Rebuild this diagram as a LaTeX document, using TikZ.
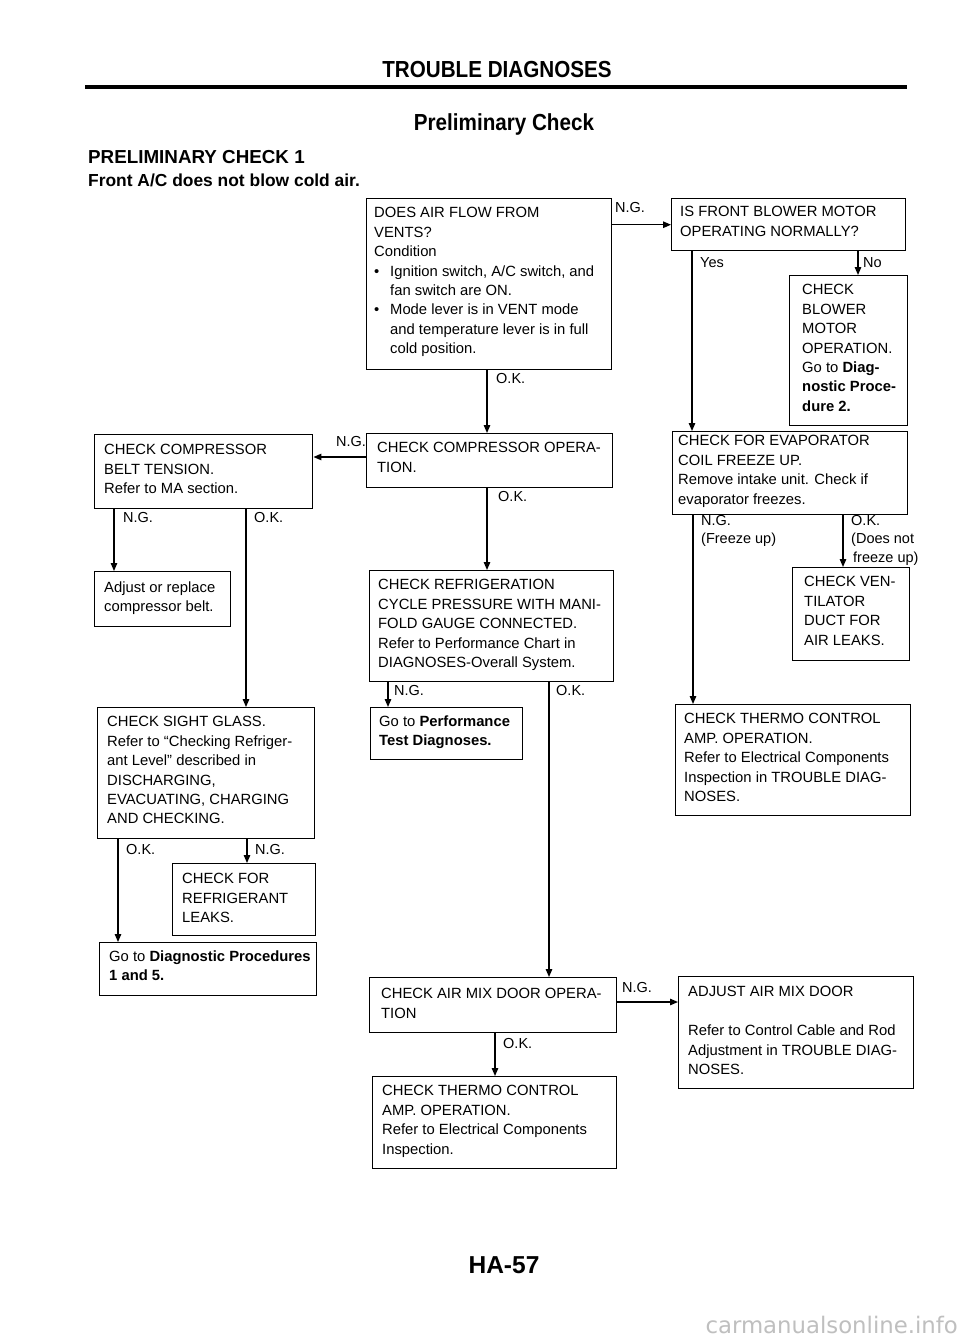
\documentclass[tikz,border=0pt]{standalone}
\usepackage{fontspec}
\setmainfont{Liberation Sans}
\newfontfamily\wmfont{DejaVu Sans}
\usetikzlibrary{arrows.meta}
\tikzset{
  box/.style={draw, line width=1.45pt, inner sep=0pt, anchor=north west},
  txt/.style={inner sep=0pt, anchor=north west, align=left, font=\fontsize{14.8}{19.4}\selectfont},
  lbl/.style={inner sep=0pt, anchor=base west, font=\fontsize{14.5}{19}\selectfont},
  arr/.style={line width=1.3pt, -{Triangle[length=8pt,width=6.5pt]}},
  ttl/.style={inner sep=0pt, font=\bfseries\fontsize{21.5}{24}\selectfont},
}
% name, x1, y1, x2, y2, text x, first baseline, text
\newcommand\flowbox[8]{%
  \node[box, minimum width=#4pt-#2pt, minimum height=#5pt-#3pt] (#1) at (#2,#3) {};
  \node[txt] (#1-t) at (#6,{#7-10.6}) {#8};
}
\newcommand\bul{\makebox[16pt][l]{\textbullet}}
\begin{document}
\begin{tikzpicture}[x=1pt,y=-1pt]
\useasboundingbox (0,0) rectangle (960,1340);
\fill[white] (0,0) rectangle (960,1340);

% header
\node[ttl, anchor=base] (title) at (497,78) {\scalebox{0.96}[1.08]{TROUBLE DIAGNOSES}};
\draw[line width=3.5pt] (85,87) -- (907,87);
\node[ttl, anchor=base] (sub) at (504,131) {\scalebox{0.96}[1.08]{Preliminary Check}};
\node[anchor=base west, inner sep=0pt, font=\bfseries\fontsize{18.8}{22}\selectfont] (h1) at (88,164) {PRELIMINARY CHECK 1};
\node[anchor=base west, inner sep=0pt, font=\bfseries\fontsize{17.4}{20}\selectfont] (h2) at (88,187) {Front A/C does not blow cold air.};

% boxes
\flowbox{A}{366}{198}{611}{369}{374}{218}{DOES AIR FLOW FROM\\VENTS?\\Condition\\\bul Ignition switch, A/C switch, and\\\hspace*{16pt}fan switch are ON.\\\bul Mode lever is in VENT mode\\\hspace*{16pt}and temperature lever is in full\\\hspace*{16pt}cold position.}
\flowbox{B}{671}{198}{905}{250}{680}{217}{IS FRONT BLOWER MOTOR\\OPERATING NORMALLY?}
\flowbox{C}{789}{275}{907}{425}{802}{295}{CHECK\\BLOWER\\MOTOR\\OPERATION.\\Go to \textbf{Diag-}\\\textbf{nostic Proce-}\\\textbf{dure 2.}}
\flowbox{D}{366}{433}{612}{487}{377}{453}{CHECK COMPRESSOR OPERA-\\TION.}
\flowbox{E}{94}{434}{312}{508}{104}{455}{CHECK COMPRESSOR\\BELT TENSION.\\Refer to MA section.}
\flowbox{F}{94}{571}{230}{626}{104}{592}{Adjust or replace\\compressor belt.}
\flowbox{G}{369}{570}{613}{681}{378}{590}{CHECK REFRIGERATION\\CYCLE PRESSURE WITH MANI-\\FOLD GAUGE CONNECTED.\\Refer to Performance Chart in\\DIAGNOSES-Overall System.}
\flowbox{H}{672}{431}{907}{514}{678}{446}{CHECK FOR EVAPORATOR\\COIL FREEZE UP.\\Remove intake unit. Check if\\evaporator freezes.}
\flowbox{I}{792}{567}{909}{660}{804}{587}{CHECK VEN-\\TILATOR\\DUCT FOR\\AIR LEAKS.}
\flowbox{J}{97}{707}{314}{838}{107}{727}{CHECK SIGHT GLASS.\\Refer to “Checking Refriger-\\ant Level” described in\\DISCHARGING,\\EVACUATING, CHARGING\\AND CHECKING.}
\flowbox{K}{370}{707}{522}{759}{379}{726}{Go to \textbf{Performance}\\\textbf{Test Diagnoses.}}
\flowbox{L}{675}{704}{910}{815}{684}{724}{CHECK THERMO CONTROL\\AMP. OPERATION.\\Refer to Electrical Components\\Inspection in TROUBLE DIAG-\\NOSES.}
\flowbox{M}{172}{863}{315}{935}{182}{884}{CHECK FOR\\REFRIGERANT\\LEAKS.}
\flowbox{N}{99}{942}{316}{995}{109}{961}{Go to \textbf{Diagnostic Procedures}\\\textbf{1 and 5.}}
\flowbox{O}{369}{977}{616}{1032}{381}{999}{CHECK AIR MIX DOOR OPERA-\\TION}
\flowbox{P}{678}{976}{913}{1088}{688}{997}{ADJUST AIR MIX DOOR\\[19.4pt]Refer to Control Cable and Rod\\Adjustment in TROUBLE DIAG-\\NOSES.}
\flowbox{Q}{372}{1076}{616}{1168}{382}{1096}{CHECK THERMO CONTROL\\AMP. OPERATION.\\Refer to Electrical Components\\Inspection.}

% connectors
\draw[arr] (B.west -| A.east) -- (B.west);
\draw[arr] (B.south -| 858,0) -- (C.north -| 858,0);
\draw[arr] (B.south -| 692,0) -- (H.north -| 692,0);
\draw[arr] (A.south -| 487,0) -- (D.north -| 487,0);
\draw[arr] (D.west |- 0,457) -- (E.east |- 0,457);
\draw[arr] (D.south -| 487,0) -- (G.north -| 487,0);
\draw[arr] (E.south -| 114,0) -- (F.north -| 114,0);
\draw[arr] (E.south -| 246,0) -- (J.north -| 246,0);
\draw[arr] (G.south -| 388,0) -- (K.north -| 388,0);
\draw[arr] (G.south -| 549,0) -- (O.north -| 549,0);
\draw[arr] (H.south -| 693,0) -- (L.north -| 693,0);
\draw[arr] (H.south -| 843,0) -- (I.north -| 843,0);
\draw[arr] (J.south -| 118,0) -- (N.north -| 118,0);
\draw[arr] (J.south -| 247,0) -- (M.north -| 247,0);
\draw[arr] (O.east |- 0,1002) -- (P.west |- 0,1002);
\draw[arr] (O.south -| 495,0) -- (Q.north -| 495,0);

% labels
\node[lbl] (l1) at (615,213) {N.G.};
\node[lbl] (l2) at (863,267) {No};
\node[lbl] (l3) at (700,267) {Yes};
\node[lbl] (l4) at (496,383) {O.K.};
\node[lbl] (l5) at (336,446) {N.G.};
\node[lbl] (l6) at (498,501) {O.K.};
\node[lbl] (l7) at (123,522) {N.G.};
\node[lbl] (l8) at (254,522) {O.K.};
\node[lbl] (l9) at (394,695) {N.G.};
\node[lbl] (l10) at (556,695) {O.K.};
\node[lbl] (l11) at (701,525) {N.G.};
\node[lbl] (l11b) at (701,543) {(Freeze up)};
\node[lbl] (l12) at (851,525) {O.K.};
\node[lbl] (l12b) at (851,543) {(Does not};
\node[lbl] (l12c) at (853,562) {freeze up)};
\node[lbl] (l13) at (126,854) {O.K.};
\node[lbl] (l14) at (255,854) {N.G.};
\node[lbl] (l15) at (622,992) {N.G.};
\node[lbl] (l16) at (503,1048) {O.K.};

% footer
\node[anchor=base, inner sep=0pt, font=\bfseries\fontsize{24.5}{28}\selectfont] (pg) at (504,1273) {HA-57};
\node[anchor=base east, inner sep=0pt, font=\wmfont\fontsize{22.8}{26}\selectfont, text=black!25] (wm) at (958,1333) {carmanualsonline.info};
\end{tikzpicture}
\end{document}
